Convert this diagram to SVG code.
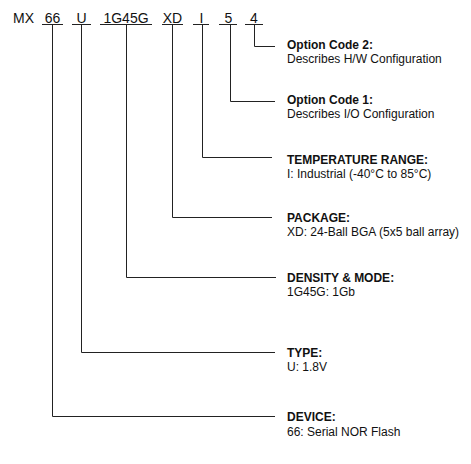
<svg xmlns="http://www.w3.org/2000/svg" width="471" height="464" viewBox="0 0 471 464">
<style>
.code{font-family:"Liberation Sans",Arial,sans-serif;font-size:14px;fill:#111;text-anchor:middle}
.t{font-family:"Liberation Sans",Arial,sans-serif;font-size:12px;fill:#111;font-weight:bold}
.d{font-family:"Liberation Sans",Arial,sans-serif;font-size:12px;fill:#111}
.ln{fill:none;stroke:#222;stroke-width:1}
</style>
<rect width="471" height="464" fill="#fff"/>
<g id="part-number">
<text class="code" x="13" y="22.5" style="text-anchor:start">MX</text>
<text class="code" x="52.5" y="22.5">66</text>
<text class="code" x="81.5" y="22.5">U</text>
<text class="code" x="126" y="22.5">1G45G</text>
<text class="code" x="172.5" y="22.5">XD</text>
<text class="code" x="201.5" y="22.5">I</text>
<text class="code" x="228.5" y="22.5">5</text>
<text class="code" x="254" y="22.5">4</text>
</g>
<g id="connectors" class="ln">
<path d="M42 24.5H63M72 24.5H91M100 24.5H152M162 24.5H183M193 24.5H209M219 24.5H237M245 24.5H263"/>
<path d="M254.5 24.5V46.5H275"/>
<path d="M230.5 24.5V101.5H275"/>
<path d="M202.5 24.5V157.5H272"/>
<path d="M172.5 24.5V217.5H272"/>
<path d="M126.5 24.5V277.5H276"/>
<path d="M81.5 24.5V352.5H275"/>
<path d="M52.5 24.5V416.5H275"/>
</g>
<g id="opt2"><text class="t" x="287" y="49">Option Code 2:</text><text class="d" x="287" y="63">Describes H/W Configuration</text></g>
<g id="opt1"><text class="t" x="287" y="104">Option Code 1:</text><text class="d" x="287" y="118">Describes I/O Configuration</text></g>
<g id="temp"><text class="t" x="287" y="164">TEMPERATURE RANGE:</text><text class="d" x="287" y="178">I: Industrial (-40°C to 85°C)</text></g>
<g id="package"><text class="t" x="287" y="222">PACKAGE:</text><text class="d" x="287" y="236">XD: 24-Ball BGA (5x5 ball array)</text></g>
<g id="density"><text class="t" x="287" y="282">DENSITY &amp; MODE:</text><text class="d" x="287" y="296">1G45G: 1Gb</text></g>
<g id="type"><text class="t" x="287" y="357">TYPE:</text><text class="d" x="287" y="371">U: 1.8V</text></g>
<g id="device"><text class="t" x="287" y="421">DEVICE:</text><text class="d" x="287" y="436">66: Serial NOR Flash</text></g>
</svg>
